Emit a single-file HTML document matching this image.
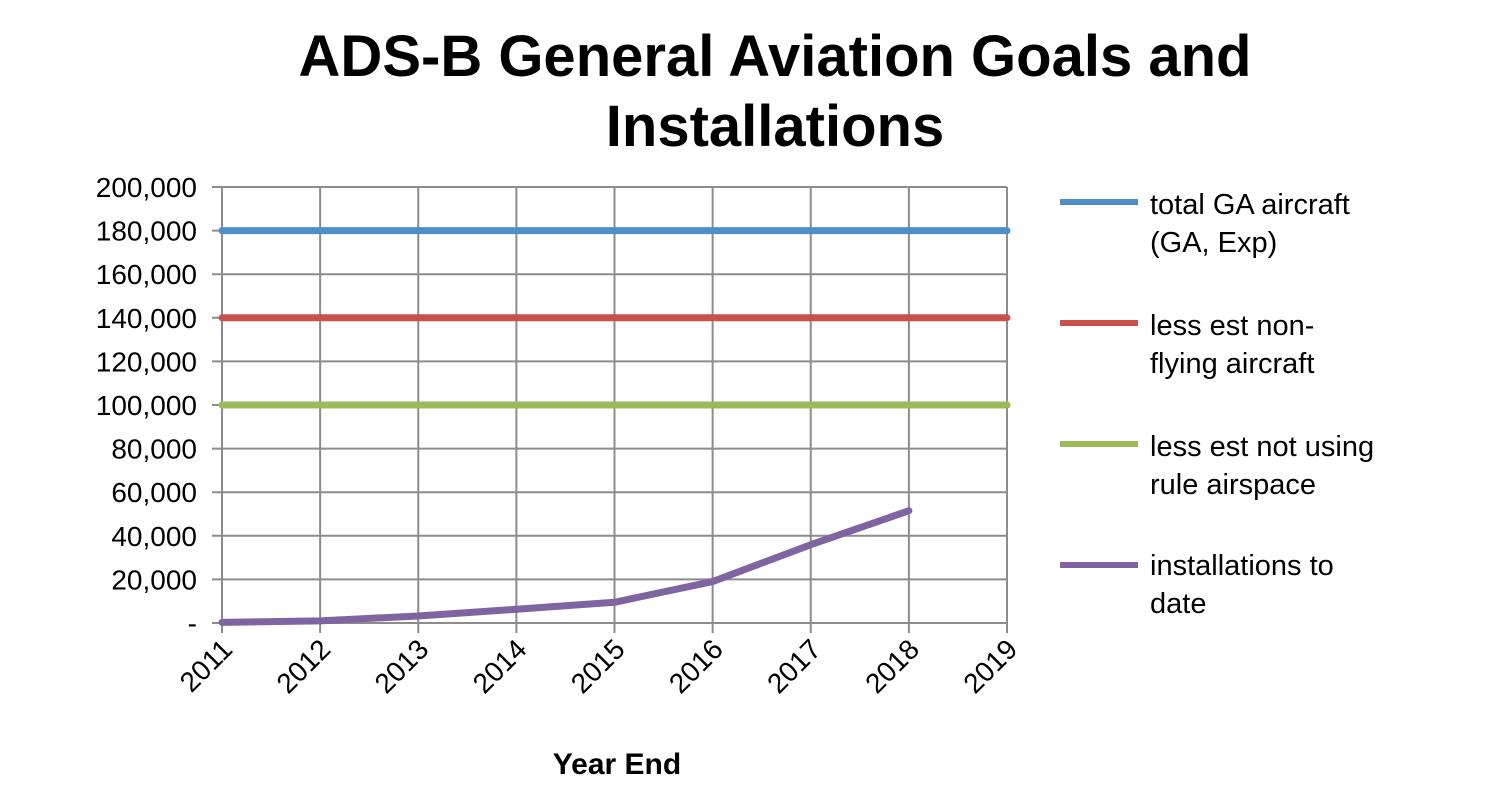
<!DOCTYPE html>
<html><head><meta charset="utf-8"><style>
body{margin:0;background:#fff;}
svg text{font-family:"Liberation Sans","DejaVu Sans",sans-serif;}
</style></head><body>
<svg width="1500" height="782" xmlns="http://www.w3.org/2000/svg">
<g font-weight="bold" font-size="58" text-anchor="middle" fill="#000">
<text x="775" y="76">ADS-B General Aviation Goals and</text>
<text x="775" y="146">Installations</text>
</g>
<g id="grid"></g>
<g id="yticks"></g>
<g id="xticks"></g>
<g id="series"></g>
<text x="617" y="774" font-size="30" font-weight="bold" text-anchor="middle">Year End</text>
<g font-size="29" fill="#000">
<g><line x1="1060" x2="1138" y1="202" y2="202" stroke="#4f8fc9" stroke-width="6"/><text x="1150" y="214">total GA aircraft</text><text x="1150" y="252">(GA, Exp)</text></g>
<g><line x1="1060" x2="1138" y1="323" y2="323" stroke="#c9504b" stroke-width="6"/><text x="1150" y="335">less est non-</text><text x="1150" y="373">flying aircraft</text></g>
<g><line x1="1060" x2="1138" y1="444" y2="444" stroke="#9bbb59" stroke-width="6"/><text x="1150" y="456">less est not using</text><text x="1150" y="494">rule airspace</text></g>
<g><line x1="1060" x2="1138" y1="565" y2="565" stroke="#8064a2" stroke-width="6"/><text x="1150" y="575">installations to</text><text x="1150" y="613">date</text></g>
</g>
</svg>
<script>
const years=[2011,2012,2013,2014,2015,2016,2017,2018,2019];
const yTicks=[0,20000,40000,60000,80000,100000,120000,140000,160000,180000,200000];
const yTickLabels=["-","20,000","40,000","60,000","80,000","100,000","120,000","140,000","160,000","180,000","200,000"];
const totalGA=[180000,180000,180000,180000,180000,180000,180000,180000,180000];
const nonFlying=[140000,140000,140000,140000,140000,140000,140000,140000,140000];
const ruleAirspace=[100000,100000,100000,100000,100000,100000,100000,100000,100000];
const installations=[300,1000,3200,6300,9500,19000,35900,51500];
const NS="http://www.w3.org/2000/svg";
const X0=222,X1=1007,Y0=623,Y1=187;
const xs=i=>X0+(X1-X0)*i/(years.length-1);
const ys=v=>Y0-(Y0-Y1)*v/200000;
function mk(t,a,p){const e=document.createElementNS(NS,t);for(const k in a)e.setAttribute(k,a[k]);p.appendChild(e);return e;}
const grid=document.getElementById('grid'),yt=document.getElementById('yticks'),xt=document.getElementById('xticks'),ser=document.getElementById('series');
yTicks.forEach((v,i)=>{
 const l=mk('line',{x1:X0-10,x2:X1,y1:ys(v),y2:ys(v),stroke:'#8c8c8c','stroke-width':2},grid);
 
 
 const t=mk('text',{x:197,y:ys(v)+10,'font-size':28,'text-anchor':'end'},yt);
 t.textContent=yTickLabels[i];
 
 
});
years.forEach((y,i)=>{
 const l=mk('line',{x1:xs(i),x2:xs(i),y1:Y1,y2:Y0+10,stroke:'#8c8c8c','stroke-width':2},grid);
 
 
 const t=mk('text',{x:0,y:0,'font-size':28,'text-anchor':'end',transform:`translate(${xs(i)+12},${Y0+28}) rotate(-45)`},xt);
 t.textContent=y;
 
 
});
function line(arr,color,name){
 const pts=arr.map((v,i)=>xs(i)+','+ys(v)).join(' ');
 const p=mk('polyline',{points:pts,fill:'none',stroke:color,'stroke-width':7,'stroke-linejoin':'round','stroke-linecap':'round'},ser);
 
 
}
line(totalGA,'#4f8fc9','line-total-ga');
line(nonFlying,'#c9504b','line-non-flying');
line(ruleAirspace,'#9bbb59','line-rule-airspace');
line(installations,'#8064a2','line-installations');
</script>
</body></html>
